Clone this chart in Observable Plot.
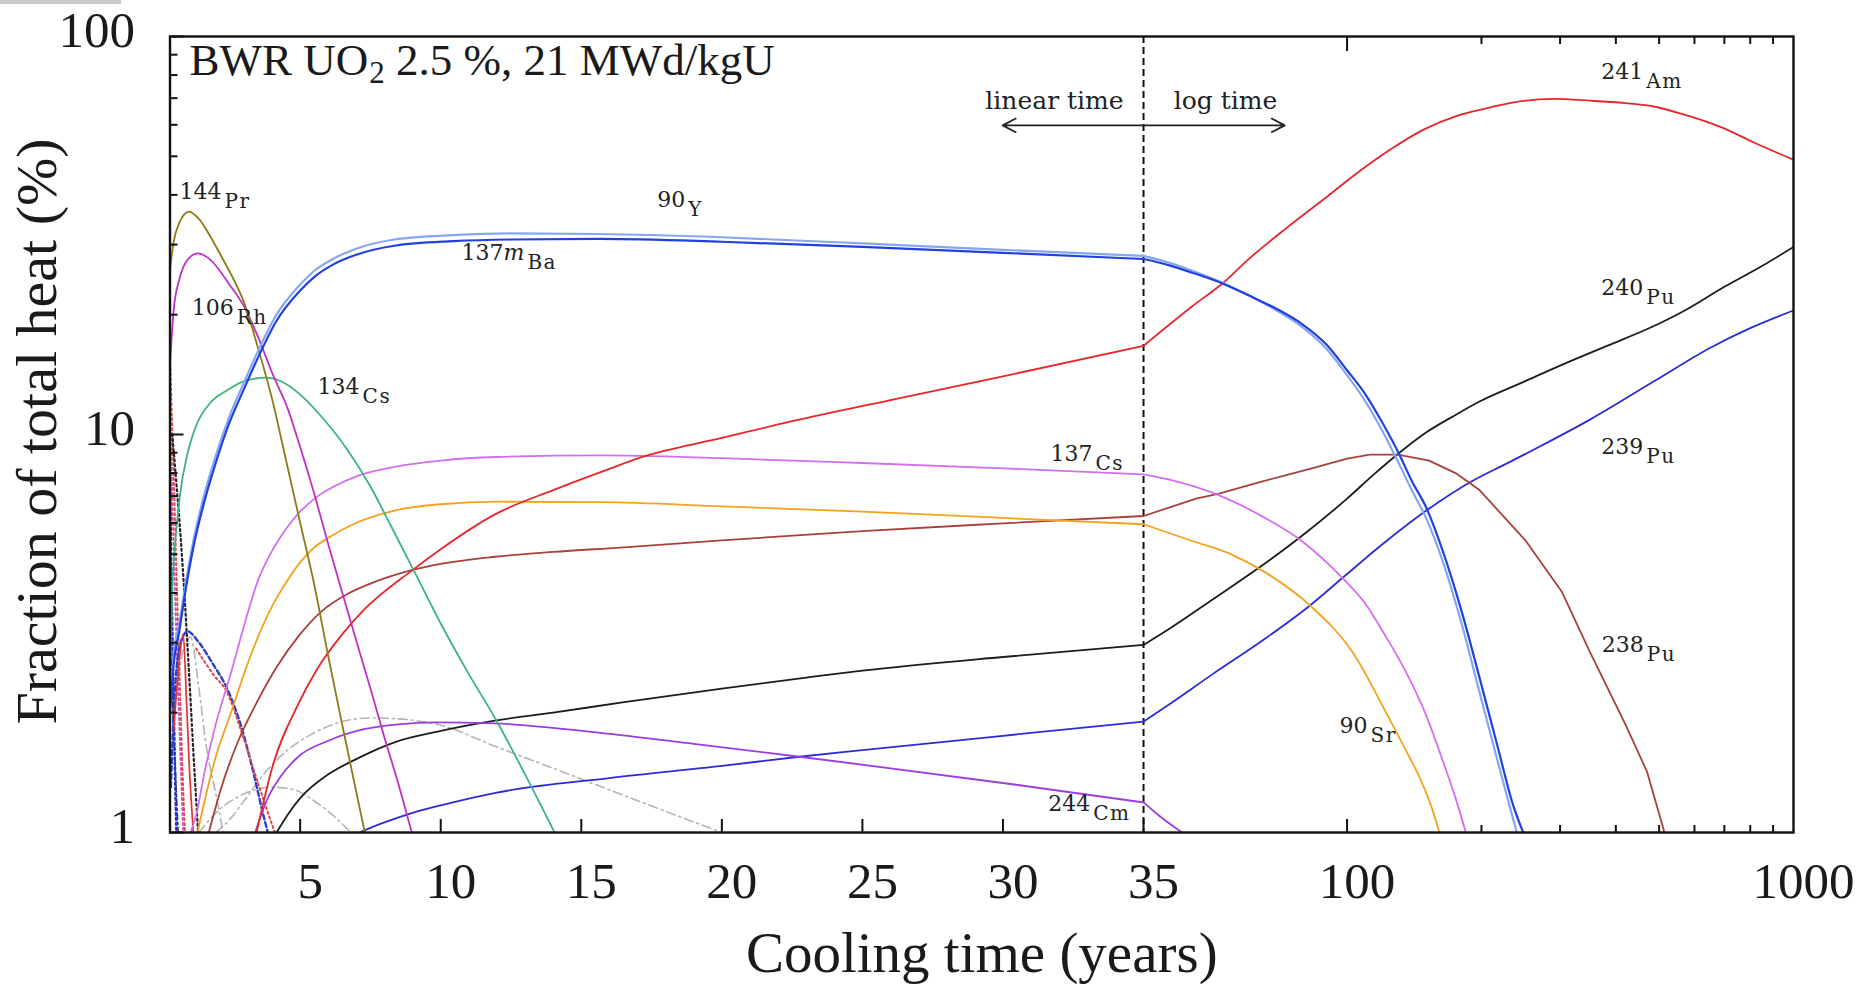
<!DOCTYPE html>
<html><head><meta charset="utf-8">
<script src="https://cdn.jsdelivr.net/npm/d3@7"></script>
<script src="https://cdn.jsdelivr.net/npm/@observablehq/plot@0.6"></script>
<style>
html,body{margin:0;padding:0;background:#fff;overflow:hidden;}
#bar{position:absolute;left:0;top:0;width:121px;height:4px;background:#c9c9c9;}
</style></head>
<body><div id="chart"></div><div id="bar"></div>
<script>
// ---------------- data ----------------
const xTickValues = [5, 10, 15, 20, 25, 30, 35, 100, 1000];
const xTickLabels = ["5", "10", "15", "20", "25", "30", "35", "100", "1000"];
const xMajorTicks = [5, 10, 15, 20, 25, 30, 35, 100];
const xMinorLog = [200, 300, 400, 500, 600, 700, 800, 900];
const yTickValues = [1, 10, 100];
const yTickLabels = ["1", "10", "100"];
const yMinor = [2, 3, 4, 5, 6, 7, 8, 9, 20, 30, 40, 50, 60, 70, 80, 90];

const Pr144 = [[0.37,26],[0.5,30.5],[0.7,34],[1.05,36.3],[1.4,34.8],[1.8,31.5],[2.2,28],[2.6,24.8],[3.0,21.5],[3.5,16.5],[4.0,12.3],[4.5,8.6],[5.0,6.0],[5.5,4.2],[6.0,2.77],[6.5,1.86],[7.0,1.26],[7.3,1.0]];
const Rh106 = [[0.37,15],[0.5,20.5],[0.7,24.5],[1.0,27.5],[1.35,28.5],[1.8,27.5],[2.45,24],[3.0,21],[3.5,17.6],[4.0,14.3],[4.58,11.5],[5.0,9.3],[5.5,7.1],[6.0,5.3],[6.5,4.0],[7.0,3.03],[7.5,2.3],[8.0,1.73],[8.5,1.32],[8.97,1.0]];
const Cs134 = [[0.37,2.6],[0.46,4.2],[0.6,5.8],[0.72,7.0],[1.0,9.0],[1.32,10.6],[1.8,12.0],[2.39,12.9],[3.0,13.6],[3.8,13.9],[4.5,13.4],[5.11,12.4],[5.8,11.0],[6.66,9.2],[7.5,7.4],[8.2,5.95],[9.1,4.47],[10,3.35],[11,2.5],[11.93,1.94],[13,1.4],[14.05,1.0]];
const Y90 = [[0.37,2.1],[0.5,2.8],[0.7,3.35],[0.91,4.15],[1.2,5.4],[1.62,7.2],[2.0,8.85],[2.46,11.0],[3.0,13.5],[3.5,16.2],[4.14,19.9],[5.0,23.8],[5.54,25.9],[6.2,27.7],[6.94,29.2],[8.35,30.9],[10.45,31.7],[12.5,32.0],[15.68,31.9],[20,31.3],[25,30.2],[30,29.1],[35,28.1],[40,27.0],[45,25.8],[52.9,24.0],[60,22.4],[70,20.4],[79,18.7],[90,16.4],[100,14.1],[110,12.1],[120,10.2],[131,8.4],[140,7.2],[150,6.2],[163.8,4.8],[180.5,3.35],[198,2.25],[217.8,1.5],[232,1.15],[240,1.0]];
const Ba137m = [[0.37,2.0],[0.5,2.65],[0.7,3.2],[0.91,4.0],[1.2,5.2],[1.62,6.9],[2.0,8.5],[2.46,10.6],[3.0,13.0],[3.5,15.6],[4.14,19.2],[5.0,23.0],[5.54,25.0],[6.2,26.8],[6.94,28.2],[8.35,29.8],[10.45,30.6],[12.5,30.9],[15.68,31.0],[20,30.5],[25,29.6],[30,28.6],[35,27.6],[40,26.6],[45,25.5],[52.9,23.9],[60,22.4],[70,20.6],[79,19.0],[90,16.8],[100,14.5],[110,12.6],[120,10.7],[131,8.9],[140,7.6],[150,6.6],[163.8,5.1],[180.5,3.6],[198,2.45],[217.8,1.63],[235,1.18],[248,1.0]];
const Cs137 = [[1.1,1.0],[1.32,1.12],[1.6,1.42],[1.97,1.84],[2.56,2.55],[3.0,3.3],[3.5,4.3],[4.0,5.1],[4.5,5.8],[5.0,6.4],[5.57,6.95],[6.2,7.4],[7.0,7.85],[8.4,8.3],[10,8.6],[12,8.78],[15.68,8.86],[20,8.72],[25,8.48],[30,8.22],[35,7.94],[40,7.7],[51.7,7.03],[65,6.2],[79,5.41],[97.6,4.36],[110,3.75],[120.8,3.17],[135,2.55],[149.5,2.0],[165,1.48],[175,1.22],[184.5,1.0]];
const Sr90 = [[1.35,1.0],[1.6,1.2],[2.0,1.55],[2.56,2.02],[3.0,2.5],[3.5,3.1],[4.0,3.7],[4.5,4.25],[5.05,4.82],[5.5,5.2],[6.0,5.5],[7.0,6.0],[8.4,6.45],[10,6.68],[12,6.78],[15.68,6.76],[20,6.6],[25,6.4],[30,6.17],[35,5.95],[45,5.4],[55,5.0],[64.6,4.55],[82.6,3.72],[102.4,2.86],[123.5,1.96],[135,1.62],[145.6,1.37],[155,1.15],[161,1.0]];
const Pu238 = [[1.75,1.0],[2.2,1.3],[2.8,1.7],[3.5,2.15],[4.16,2.6],[5.0,3.15],[5.77,3.6],[6.7,3.98],[7.5,4.22],[8.97,4.56],[10,4.73],[11.93,4.93],[14,5.07],[16.4,5.2],[20,5.42],[25,5.72],[30,5.98],[35,6.24],[45.9,6.9],[51.7,7.1],[64,7.6],[82.6,8.2],[100,8.7],[112.4,8.9],[130,8.9],[152.6,8.6],[175,8.0],[198,7.25],[250.6,5.43],[303,4.02],[349,2.86],[422,1.85],[470,1.42],[514,1.0]];
const Am241 = [[3.45,1.0],[4.0,1.45],[4.93,2.1],[5.57,2.55],[6.5,3.15],[7.31,3.65],[8.97,4.55],[10,5.15],[11.93,6.3],[14,7.25],[16,8.2],[17.15,8.77],[20,9.8],[22.5,10.8],[26,12.2],[30,14.0],[35,16.7],[45,21.0],[52.9,24.1],[60,27.5],[73.6,33.2],[90,39.5],[104.8,45.2],[125,52.0],[149.5,58.6],[175,63.0],[202.6,65.8],[240,68.5],[289,69.7],[350,69.0],[420,68.0],[486,66.7],[560,64.0],[690,59.1],[820,54.0],[1000,49.0]];
const Pu240 = [[4.16,1.0],[4.6,1.12],[5.0,1.22],[6.0,1.4],[6.92,1.52],[8.4,1.69],[10,1.8],[11.93,1.91],[14,2.0],[16.4,2.12],[20,2.3],[23,2.45],[25,2.55],[30,2.76],[35,2.96],[40,3.25],[50,3.85],[63.9,4.65],[79,5.55],[100,6.9],[115,7.95],[131,9.0],[150,10.1],[175,11.2],[198,12.1],[250,13.6],[300,14.9],[382,16.7],[480,18.6],[571,20.5],[700,23.5],[850,26.5],[1000,29.6]];
const Pu239 = [[7.1,1.0],[8.0,1.06],[9,1.12],[10,1.17],[12,1.26],[16,1.37],[20,1.47],[22.76,1.55],[25,1.61],[30,1.75],[35,1.9],[40,2.1],[50,2.5],[65,3.05],[82.6,3.72],[97.6,4.36],[120,5.3],[150.8,6.45],[189,7.6],[230,8.5],[268.8,9.3],[350,10.9],[487,13.6],[650,16.5],[800,18.5],[1000,20.5]];
const Cm244 = [[3.4,1.0],[3.8,1.2],[4.3,1.38],[4.93,1.55],[6,1.7],[7.31,1.82],[8.5,1.87],[9.8,1.89],[11.9,1.88],[15.68,1.78],[19,1.67],[22.76,1.55],[26,1.45],[30.4,1.32],[35,1.19],[38,1.1],[42.7,1.0]];
const Gray1 = [[2.0,1.0],[2.6,1.1],[3.0,1.2],[3.7,1.4],[4.5,1.6],[5.5,1.78],[6.5,1.9],[7.5,1.94],[8.5,1.93],[10,1.86],[12,1.64],[14,1.45],[16,1.28],[18,1.13],[20,1.0]];
const Gray2 = [[1.4,1.0],[2.0,1.12],[3.0,1.25],[4.0,1.3],[4.8,1.28],[5.5,1.2],[6.2,1.1],[6.8,1.0]];
const Gray3 = [[0.6,2.2],[0.85,2.9],[1.1,3.1],[1.4,2.3],[1.67,1.63],[2.0,1.25],[2.26,1.0]];
const BlueDashed = [[0.4,1.3],[0.55,2.3],[0.75,3.0],[1.0,3.2],[1.4,3.0],[1.9,2.65],[2.4,2.3],[2.9,1.85],[3.3,1.45],[3.7,1.1],[3.85,1.0]];
const RedDotted2 = [[1.3,2.9],[1.9,2.5],[2.4,2.25],[2.9,1.8],[3.4,1.4],[3.8,1.15],[4.1,1.0]];
const RedEarly = [[0.5,1.8],[0.7,2.7],[0.84,3.15],[0.95,2.2],[1.05,1.5],[1.2,1.0]];
const RedDotted1 = [[0.37,16],[0.42,12],[0.5,8],[0.58,5],[0.66,3.2],[0.74,2.1],[0.82,1.4],[0.9,1.0]];
const PinkDotted = [[0.37,12],[0.45,7],[0.55,4],[0.65,2.4],[0.75,1.5],[0.84,1.0]];
const BlackDotted = [[0.45,10],[0.6,7.5],[0.75,5.5],[0.9,3.8],[1.05,2.5],[1.2,1.6],[1.37,1.0]];
const BlueDotted = [[0.37,9],[0.4,5.5],[0.45,3.3],[0.5,2.1],[0.55,1.4],[0.6,1.0]];
const BlackDashDot = [[0.37,3.2],[0.45,2.2],[0.55,1.5],[0.66,1.0]];

const isoLabels = [
  {mass: "144", el: "Pr", t: 0.71, v: 37},
  {mass: "106", el: "Rh", t: 1.14, v: 18.9},
  {mass: "134", el: "Cs", t: 5.62, v: 12.0},
  {mass: "90", el: "Y", t: 17.7, v: 35.5},
  {mass: "137m", el: "Ba", t: 10.74, v: 26.1},
  {mass: "137", el: "Cs", t: 31.69, v: 8.12},
  {mass: "244", el: "Cm", t: 31.61, v: 1.078},
  {mass: "90", el: "Sr", t: 96.2, v: 1.69},
  {mass: "241", el: "Am", t: 371, v: 74.4},
  {mass: "240", el: "Pu", t: 371, v: 21.3},
  {mass: "239", el: "Pu", t: 371, v: 8.5},
  {mass: "238", el: "Pu", t: 372, v: 2.7}
];
const noteText = ["BWR UO\u2082 2.5 %, 21 MWd/kgU"];
const xTitle = ["Cooling time (years)"];
const yTitle = ["Fraction of total heat (%)"];
const timeNotes = [{s: "linear time", t: 34.29, v: 65.6}, {s: "log time", t: 40.9, v: 65.6}];
const timeArrows = [{t1: 35, t2: 29.99, v: 59.8}, {t1: 35, t2: 72.5, v: 59.8}];
const breakTime = [35];

// ---------------- scale helpers ----------------
const T_MIN = 0.37, T_BREAK = 35, K = 15.88;
const U = t => t <= T_BREAK ? t : T_BREAK + K * Math.log10(t / T_BREAK);

function rows(arr, name, part) {
  const out = [];
  for (const [t, v] of arr) {
    if (t <= T_BREAK && part !== "log") out.push({t, v, seg: name + "-lin"});
    if (t >= T_BREAK && part !== "lin") out.push({t, v, seg: name + "-log"});
  }
  return out;
}

const serif = "Liberation Serif, Times New Roman, serif";
const small = "DejaVu Serif, serif";

const series = [
  {name: "Gray1", d: Gray1, c: "#b4b4b4", w: 1.6, dash: "9,4,2,4"},
  {name: "Gray2", d: Gray2, c: "#b4b4b4", w: 1.6, dash: "9,4,2,4"},
  {name: "Gray3", d: Gray3, c: "#b4b4b4", w: 1.6, dash: "9,4,2,4"},
  {name: "BlackDashDot", d: BlackDashDot, c: "#333", w: 1.6, dash: "6,3,2,3"},
  {name: "BlueDotted", d: BlueDotted, c: "#2233cc", w: 2.6, dash: "2,3"},
  {name: "PinkDotted", d: PinkDotted, c: "#d050c0", w: 2, dash: "2,3"},
  {name: "RedDotted1", d: RedDotted1, c: "#e04848", w: 2, dash: "2,3"},
  {name: "BlackDotted", d: BlackDotted, c: "#222", w: 2.2, dash: "2,3"},
  {name: "BlueDashed", d: BlueDashed, c: "#2a3fc8", w: 2.4, dash: "5,3"},
  {name: "RedDotted2", d: RedDotted2, c: "#e04848", w: 2, dash: "2,3"},
  {name: "RedEarly", d: RedEarly, c: "#e53030", w: 1.7},
  {name: "Pu239", d: Pu239, c: "#2b2bd9", w: 1.8},
  {name: "Pu240", d: Pu240, c: "#1c1c1c", w: 1.8},
  {name: "Cm244", d: Cm244, c: "#9b3be0", w: 1.8},
  {name: "Pu238", d: Pu238, c: "#a8403c", w: 1.8, logCurve: "linear"},
  {name: "Sr90", d: Sr90, c: "#f5a21b", w: 1.8},
  {name: "Cs137", d: Cs137, c: "#d36ef0", w: 1.8},
  {name: "Am241", d: Am241, c: "#e8262a", w: 1.8},
  {name: "Cs134", d: Cs134, c: "#3db47c", w: 1.8},
  {name: "Rh106", d: Rh106, c: "#c02fc8", w: 1.8},
  {name: "Pr144", d: Pr144, c: "#8a7d14", w: 1.8},
  {name: "Y90", d: Y90, c: "#86a6f2", w: 2.2},
  {name: "Ba137m", d: Ba137m, c: "#2040e0", w: 2.2}
];

const xLabelByU = new Map(xTickValues.map((t, i) => [U(t), xTickLabels[i]]));
const yLabelByV = new Map(yTickValues.map((v, i) => [v, yTickLabels[i]]));

const lineMarks = series.flatMap(s => {
  const base = {x: d => U(d.t), y: "v", z: "seg", stroke: s.c, strokeWidth: s.w,
    strokeDasharray: s.dash, clip: true};
  if (s.logCurve) {
    return [
      Plot.line(rows(s.d, s.name, "lin"), {...base, curve: "monotone-x"}),
      Plot.line(rows(s.d, s.name, "log"), {...base, curve: s.logCurve})
    ];
  }
  return [Plot.line(rows(s.d, s.name), {...base, curve: "monotone-x"})];
});

const marks = [
  Plot.ruleX(breakTime, {x: U, stroke: "#111", strokeWidth: 2, strokeDasharray: "7,4"}),
  ...lineMarks,
  Plot.text(isoLabels, {
    x: d => U(d.t), y: "v", text: d => d.mass + "\u200B" + d.el,
    textAnchor: "start", lineAnchor: "bottom", fontFamily: small, fontSize: 20, fill: "#222"
  }),
  Plot.text(noteText, {frameAnchor: "top-left", dx: 19.5, dy: 38, lineAnchor: "bottom", textAnchor: "start",
    fontFamily: serif, fontSize: 45, fill: "#1a1a1a"}),
  Plot.text(timeNotes.slice(0, 1), {x: d => U(d.t), y: "v", text: "s", textAnchor: "end", lineAnchor: "bottom",
    fontFamily: small, fontSize: 25, fill: "#222"}),
  Plot.text(timeNotes.slice(1), {x: d => U(d.t), y: "v", text: "s", textAnchor: "start", lineAnchor: "bottom",
    fontFamily: small, fontSize: 25, fill: "#222"}),
  Plot.arrow(timeArrows, {x1: d => U(d.t1), x2: d => U(d.t2), y1: "v", y2: "v",
    stroke: "#222", strokeWidth: 1.7, headLength: 13, headAngle: 55}),
  Plot.text(xTitle, {frameAnchor: "bottom", dy: 139, lineAnchor: "bottom", textAnchor: "middle",
    fontFamily: serif, fontSize: 57, fill: "#1a1a1a"}),
  Plot.text(yTitle, {frameAnchor: "left", dx: -114, dy: -3, rotate: -90, lineAnchor: "bottom", textAnchor: "middle",
    fontFamily: serif, fontSize: 58, fill: "#1a1a1a"}),
  // tick labels
  Plot.axisX(xTickValues.map(U), {anchor: "bottom", tickSize: 0, tickPadding: 29, dx: 10,
    tickFormat: d => xLabelByU.get(d), fontFamily: serif, fontSize: 51, fill: "#1a1a1a", label: null}),
  Plot.axisY(yTickValues, {anchor: "left", tickSize: 0, tickPadding: 35, dy: -6,
    tickFormat: d => yLabelByV.get(d), fontFamily: serif, fontSize: 51, fill: "#1a1a1a", label: null}),
  // inward ticks
  Plot.axisX(xMajorTicks.map(U), {anchor: "bottom", tickSize: -13, strokeWidth: 2, stroke: "#111", fill: "none", label: null}),
  Plot.axisX(xMinorLog.map(U), {anchor: "bottom", tickSize: -7, strokeWidth: 2, stroke: "#111", fill: "none", label: null}),
  Plot.axisX([100].map(U), {anchor: "top", tickSize: -14, strokeWidth: 2, stroke: "#111", fill: "none", label: null}),
  Plot.axisX(xMinorLog.map(U), {anchor: "top", tickSize: -7, strokeWidth: 2, stroke: "#111", fill: "none", label: null}),
  Plot.axisY(yTickValues, {anchor: "left", tickSize: -14, strokeWidth: 2, stroke: "#111", fill: "none", label: null}),
  Plot.axisY(yMinor, {anchor: "left", tickSize: -8, strokeWidth: 2, stroke: "#111", fill: "none", label: null}),
  Plot.frame({stroke: "#111", strokeWidth: 2.4})
];

const chart = Plot.plot({
  width: 1864, height: 991,
  marginLeft: 169.5, marginRight: 71, marginTop: 36, marginBottom: 159,
  x: {domain: [T_MIN, U(1000)], label: null},
  y: {type: "log", domain: [1, 100], label: null},
  style: {background: "#fff", color: "#1a1a1a", fontFamily: serif, overflow: "visible"},
  marks
});

// superscript mass numbers and subscript in the note (keeps real text)
const NS = "http://www.w3.org/2000/svg";
function tspan(txt, attrs) {
  const t = document.createElementNS(NS, "tspan");
  for (const k in attrs) t.setAttribute(k, attrs[k]);
  t.textContent = txt;
  return t;
}
chart.querySelectorAll("text").forEach(el => {
  const s = el.textContent;
  if (s.includes("\u200B")) {
    const [mass, elem] = s.split("\u200B");
    el.textContent = "";
    if (mass.endsWith("m")) {
      el.appendChild(tspan(mass.slice(0, -1), {"font-size": 22, dy: -9}));
      el.appendChild(tspan("m", {"font-size": 22, "font-style": "italic"}));
    } else {
      el.appendChild(tspan(mass, {"font-size": 22, dy: -9}));
    }
    el.appendChild(tspan(elem, {"font-size": 20, dy: 9, dx: 3, "letter-spacing": 1.5}));
  } else if (s.includes("\u2082")) {
    const [a, b] = s.split("\u2082");
    el.textContent = "";
    el.appendChild(document.createTextNode(a));
    el.appendChild(tspan("2", {"font-size": 31, dy: 8, dx: 1}));
    el.appendChild(tspan(b, {dy: -8}));
  }
});

document.getElementById("chart").appendChild(chart);
</script>
</body></html>
